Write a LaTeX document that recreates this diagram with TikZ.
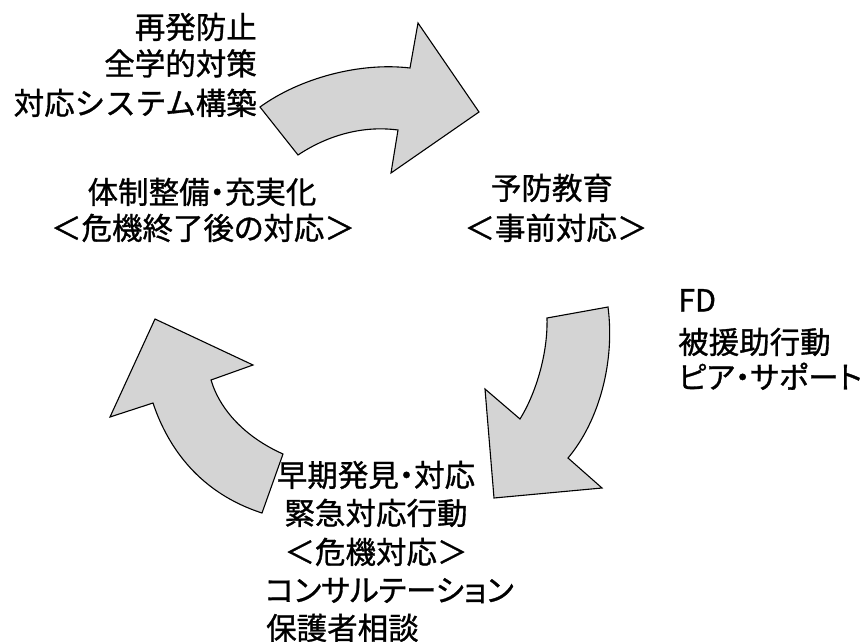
\documentclass[tikz,border=0pt]{standalone}
\usepackage{fontspec}
\newfontfamily\jpfont[RawFeature=+palt,FakeBold=1]{Noto Sans CJK JP}
\newfontfamily\jpfontfull[FakeBold=1]{Noto Sans CJK JP}
\begin{document}
\begin{tikzpicture}[x=1pt,y=-1pt,
  bigarrow/.style={draw=black,line width=1.1pt,line join=miter,fill=black!17},
  lbl/.style={inner sep=0pt,font=\jpfont\fontsize{30.5}{36}\selectfont},
  lblfull/.style={inner sep=0pt,font=\jpfontfull\fontsize{30.5}{36}\selectfont}]
\useasboundingbox (0,0) rectangle (865,642);
% top arrow
\draw[bigarrow] (260,107) .. controls (300,78) and (360,62) .. (410,68)
  -- (418,23) -- (479,112) -- (391,173) -- (398,130)
  .. controls (360,125) and (325,137) .. (298,155) -- cycle;
% right arrow
\draw[bigarrow] (547,318) -- (608,307) .. controls (615,360) and (600,420) .. (568,458)
  -- (602,488) -- (494,498) -- (485,389) -- (520,419)
  .. controls (535,395) and (548,355) .. cycle;
% left arrow
\draw[bigarrow] (262,513) -- (283,454) .. controls (245,437) and (220,410) .. (211,380)
  -- (253,365) -- (155,319) -- (110,417) -- (153,403)
  .. controls (168,448) and (200,493) .. cycle;
% top-left block
\node[lbl,anchor=base east] (t1) at (257,38.5) {再発防止};
\node[lbl,anchor=base east] (t2) at (257,75) {全学的対策};
\node[lblfull,anchor=base east] (t3) at (257,114.5) {対応システム構築};
% middle left
\node[lbl,anchor=base] (m1) at (202,203.5) {体制整備・充実化};
\node[lbl,anchor=base] (m2) at (203,239.5) {＜危機終了後の対応＞};
% middle right
\node[lbl,anchor=base] (r1) at (552,199.5) {予防教育};
\node[lbl,anchor=base] (r2) at (556,239.5) {＜事前対応＞};
% FD block
\node[lbl,anchor=base west] (f1) at (678,311.5) {FD};
\node[lbl,anchor=base west] (f2) at (678,353.5) {被援助行動};
\node[lbl,anchor=base west] (f3) at (678,388.5) {ピア・サポート};
% bottom block
\node[lbl,anchor=base] (b1) at (376,486.5) {早期発見・対応};
\node[lbl,anchor=base] (b2) at (376,524.5) {緊急対応行動};
\node[lbl,anchor=base] (b3) at (376,563.5) {＜危機対応＞};
\node[lbl,anchor=base west] (b4) at (265,601.5) {コンサルテーション};
\node[lbl,anchor=base west] (b5) at (266,639.5) {保護者相談};
\end{tikzpicture}
\end{document}
